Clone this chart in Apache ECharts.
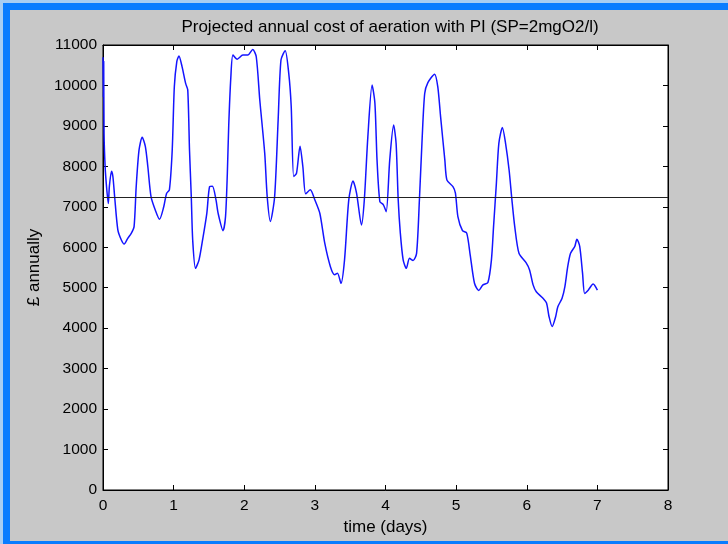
<!DOCTYPE html>
<html>
<head>
<meta charset="utf-8">
<script src="https://cdn.jsdelivr.net/npm/echarts@6/dist/echarts.min.js"></script>
<style>
  html, body { margin: 0; padding: 0; width: 728px; height: 544px; overflow: hidden; background: #a9cdf2; }
  #frame { position: absolute; left: 3px; top: 3px; width: 718px; height: 531px; background: #c8c8c8;
           border-left: 7px solid #0a7cff; border-top: 7px solid #0a7cff; border-bottom: 3px solid #0a7cff; }
  #main { position: absolute; left: 0; top: 0; width: 728px; height: 544px; }
</style>
</head>
<body>
<div id="frame"></div>
<div id="main"></div>
<script>
var myChart = echarts.init(document.getElementById('main'));

// time in days
var days = [0.00, 0.005, 0.01, 0.015, 0.03, 0.05, 0.075, 0.09, 0.12, 0.14, 0.165, 0.21, 0.26, 0.30, 0.35, 0.40, 0.44, 0.47, 0.51, 0.555,
  0.60, 0.635, 0.68, 0.74, 0.80, 0.86, 0.90, 0.94, 0.98, 1.01, 1.045, 1.075, 1.12, 1.17, 1.20, 1.225, 1.25, 1.27, 1.31, 1.36,
  1.41, 1.47, 1.51, 1.55, 1.60, 1.63, 1.70, 1.735, 1.76, 1.78, 1.81, 1.84, 1.90, 1.98, 2.05, 2.12, 2.17, 2.22, 2.29, 2.325,
  2.37, 2.43, 2.48, 2.52, 2.58, 2.63, 2.665, 2.70, 2.74, 2.79, 2.83, 2.87, 2.935, 3.00, 3.07, 3.14, 3.22, 3.28, 3.32, 3.37,
  3.42, 3.48, 3.54, 3.59, 3.66, 3.70, 3.75, 3.81, 3.85, 3.88, 3.92, 3.97, 4.01, 4.06, 4.115, 4.15, 4.18, 4.21, 4.25, 4.295,
  4.34, 4.39, 4.44, 4.48, 4.52, 4.555, 4.60, 4.695, 4.74, 4.78, 4.84, 4.87, 4.955, 4.99, 5.025, 5.09, 5.15, 5.20, 5.26, 5.32,
  5.38, 5.45, 5.50, 5.53, 5.57, 5.605, 5.655, 5.70, 5.75, 5.79, 5.83, 5.89, 5.99, 6.04, 6.09, 6.135, 6.23, 6.28, 6.315, 6.36,
  6.41, 6.44, 6.50, 6.54, 6.58, 6.62, 6.68, 6.71, 6.75, 6.79, 6.82, 6.87, 6.94, 7.00];

// projected cost, pounds per year
var cost = [10700, 9700, 10600, 8800, 8000, 7500, 7080, 7500, 7880, 7750, 7250, 6430, 6180, 6080, 6220, 6345, 6510, 7500, 8400, 8720,
  8490, 7990, 7250, 6920, 6690, 7000, 7330, 7420, 8400, 9970, 10590, 10730, 10460, 10050, 9890, 8400, 7250, 6180, 5480, 5690,
  6180, 6840, 7500, 7510, 7170, 6840, 6410, 6760, 7800, 9000, 10200, 10750, 10650, 10750, 10750, 10890, 10710, 9640, 8320, 7250,
  6640, 7250, 9150, 10630, 10860, 10300, 9480, 7750, 7830, 8500, 7990, 7320, 7420, 7170, 6840, 6100, 5520, 5320, 5360, 5110,
  5690, 7170, 7640, 7340, 6550, 7170, 8730, 10010, 9560, 8160, 7130, 7050, 6880, 8160, 9020, 8570, 7170, 6350, 5690, 5480,
  5730, 5670, 5850, 7170, 8730, 9800, 10070, 10280, 9970, 9230, 8160, 7660, 7500, 7340, 6760, 6410, 6350, 5800, 5110, 4930,
  5070, 5130, 5690, 6510, 7580, 8570, 8960, 8570, 7910, 7170, 6510, 5850, 5620, 5440, 5070, 4900, 4740, 4620, 4290, 4040,
  4290, 4530, 4740, 5030, 5520, 5850, 6020, 6200, 6020, 5360, 4860, 4940, 5090, 4940];

var meanCost = 7230;
var xTicks = [0, 1, 2, 3, 4, 5, 6, 7, 8];
var yTicks = [0, 1000, 2000, 3000, 4000, 5000, 6000, 7000, 8000, 9000, 10000, 11000];

var lineData = days.map(function (d, i) { return [d, cost[i]]; });

var tickFont = { color: '#000', fontFamily: 'Liberation Sans', fontSize: 15.5 };
var nameFont = { color: '#000', fontFamily: 'Liberation Sans', fontSize: 17 };
var tickStyle = { show: true, inside: true, length: 5, lineStyle: { color: '#000' } };
var lineStyleAx = { show: true, onZero: false, lineStyle: { color: '#000' } };

option = {
  backgroundColor: 'transparent',
  animation: false,
  title: {
    text: 'Projected annual cost of aeration with PI (SP=2mgO2/l)',
    left: 385, textAlign: 'center', top: 14,
    textStyle: { color: '#000', fontFamily: 'Liberation Sans', fontSize: 17, fontWeight: 'normal' }
  },
  grid: {
    left: 103, right: 60, top: 45, bottom: 54,
    show: true, backgroundColor: '#fff', borderColor: '#000', borderWidth: 1
  },
  xAxis: [{
    type: 'value', min: xTicks[0], max: xTicks[xTicks.length - 1], interval: 1,
    name: 'time (days)', nameLocation: 'middle', nameGap: 29,
    nameTextStyle: nameFont,
    axisLine: lineStyleAx,
    axisTick: tickStyle,
    axisLabel: Object.assign({ margin: 8 }, tickFont),
    splitLine: { show: false }
  }, {
    type: 'value', position: 'top', min: xTicks[0], max: xTicks[xTicks.length - 1], interval: 1,
    axisLine: lineStyleAx,
    axisTick: tickStyle,
    axisLabel: { show: false }, splitLine: { show: false }
  }],
  yAxis: [{
    type: 'value', min: yTicks[0], max: yTicks[yTicks.length - 1], interval: 1000,
    name: '£ annually', nameLocation: 'middle', nameGap: 58,
    nameTextStyle: nameFont,
    axisLine: lineStyleAx,
    axisTick: tickStyle,
    axisLabel: Object.assign({ margin: 6, formatter: function (v) { return String(v); } }, tickFont),
    splitLine: { show: false }
  }, {
    type: 'value', position: 'right', min: yTicks[0], max: yTicks[yTicks.length - 1], interval: 1000,
    axisLine: lineStyleAx,
    axisTick: tickStyle,
    axisLabel: { show: false }, splitLine: { show: false }
  }],
  series: [{
    type: 'line',
    data: lineData,
    showSymbol: false,
    smooth: 0.25,
    lineStyle: { color: '#1414ff', width: 1.5 },
    markLine: {
      silent: true, symbol: 'none', label: { show: false },
      lineStyle: { color: '#222', type: 'solid', width: 1.2 },
      data: [{ yAxis: meanCost }]
    }
  }]
};
myChart.setOption(option);
</script>
</body>
</html>
